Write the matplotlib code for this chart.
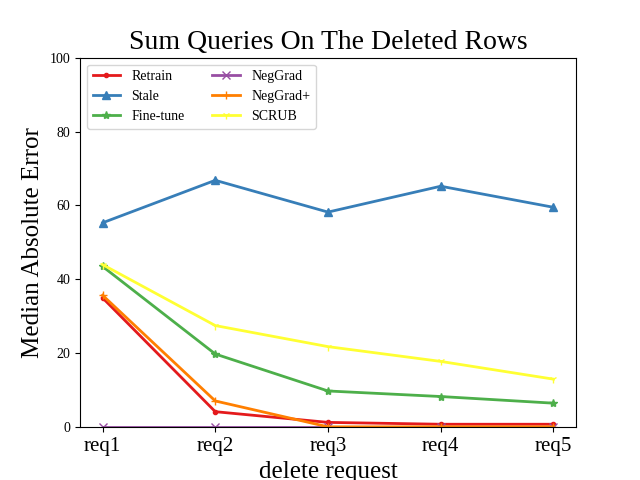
import matplotlib
matplotlib.use("Agg")
import matplotlib.pyplot as plt

plt.rcParams['font.family'] = ['Liberation Serif', 'DejaVu Serif']

requests = ["req1", "req2", "req3", "req4", "req5"]

retrain = [35.0, 4.2, 1.3, 0.8, 0.8]
stale = [55.3, 66.8, 58.2, 65.2, 59.5]
fine_tune = [43.5, 19.8, 9.8, 8.3, 6.5]
neggrad = [0.0, 0.0, 0.0, 0.0, 0.0]
neggrad_plus = [35.7, 7.1, 0.1, 0.1, 0.1]
scrub = [44.0, 27.5, 21.8, 17.8, 13.0]

series = [
    ("Retrain", retrain, "#e41a1c", "."),
    ("Stale", stale, "#377eb8", "^"),
    ("Fine-tune", fine_tune, "#4daf4a", "*"),
    ("NegGrad", neggrad, "#984ea3", "x"),
    ("NegGrad+", neggrad_plus, "#ff7f00", "+"),
    ("SCRUB", scrub, "#ffff33", "1"),
]

fig, ax = plt.subplots(figsize=(6.4, 4.8), dpi=100)

for name, values, color, marker in series:
    ax.plot(requests, values, label=name, color=color, marker=marker, linewidth=2)

ax.set_ylim(0, 100)
ax.set_title("Sum Queries On The Deleted Rows", fontsize=20)
ax.set_ylabel("Median Absolute Error", fontsize=18)
ax.set_xlabel("delete request", fontsize=18)
ax.tick_params(axis='x', labelsize=15)
ax.tick_params(axis='y', labelsize=10)
ax.legend(ncol=2, loc="upper left", fontsize=10)

fig.savefig("out.png")
